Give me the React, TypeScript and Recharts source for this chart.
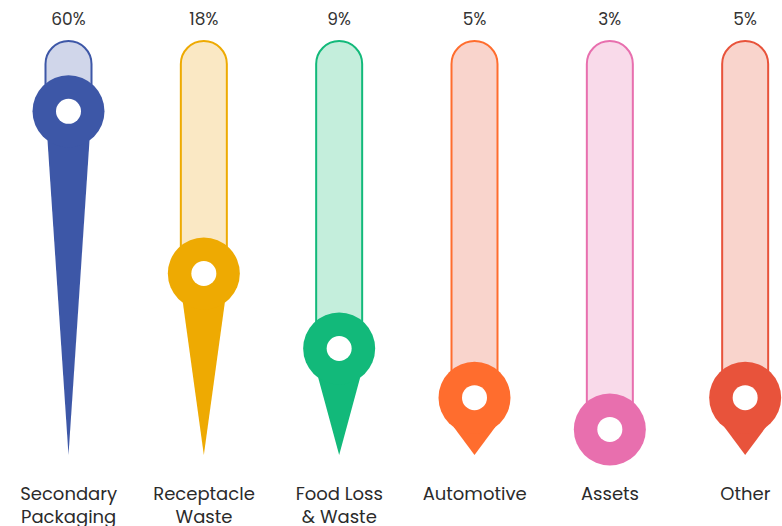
import { Bar, BarChart, XAxis, YAxis } from 'recharts'

const categories = ['Secondary Packaging', 'Receptacle Waste', 'Food Loss & Waste', 'Automotive', 'Assets', 'Other']
const shares = [60, 18, 9, 5, 3, 5]
const shareLabels = ['60%', '18%', '9%', '5%', '3%', '5%']

const pinColors = ['#3D57A7', '#EEAA02', '#12B97A', '#FF6D2E', '#E86FAE', '#E8533B']
const trackColors = ['#D0D6EA', '#FAE8C4', '#C4EEDC', '#F9D4CC', '#F9DAEA', '#F9D4CC']

// pins sit on a log scale shifted by a constant, which matches the spacing of the source
const LOG_SHIFT = 6.2
const valueDomain: [number, number] = [1.65, 96.2]

const data = categories.map((name, i) => ({ name, share: shares[i], label: shareLabels[i] }))

const FONT = 'Poppins, "Noto Sans", Lato, sans-serif'
const TRACK_W = 46

function TopLabel(props: any) {
  const { x, y, width, index } = props
  return (
    <text
      x={x + width / 2}
      y={y - 22}
      textAnchor="middle"
      dominantBaseline="central"
      fontFamily={FONT}
      fontSize={17}
      fill="#333"
    >
      {shareLabels[index]}
    </text>
  )
}

function Pin(props: any) {
  const { x, y, width, height, index, background } = props
  const cx = x + width / 2
  const cy = y
  const tip = y + height
  const top = background && typeof background.y === 'number' ? background.y : 41
  const color = pinColors[index]
  return (
    <g>
      <rect
        x={cx - TRACK_W / 2}
        y={top}
        width={TRACK_W}
        height={Math.max(cy - top, TRACK_W)}
        rx={TRACK_W / 2}
        ry={TRACK_W / 2}
        fill={trackColors[index]}
        stroke={color}
        strokeWidth={2}
      />
      {tip > cy + 29 && (
        <polygon points={`${cx - 21},${cy + 29} ${cx + 21},${cy + 29} ${cx},${tip}`} fill={color} />
      )}
      <circle cx={cx} cy={cy} r={36} fill={color} />
      <circle cx={cx} cy={cy} r={12.5} fill="#fff" />
    </g>
  )
}

function CategoryTick(props: any) {
  const { x, y, payload } = props
  const words = String(payload.value)
  const lines = words === 'Secondary Packaging'
    ? ['Secondary', 'Packaging']
    : words === 'Receptacle Waste'
      ? ['Receptacle', 'Waste']
      : words === 'Food Loss & Waste'
        ? ['Food Loss', '& Waste']
        : [words]
  return (
    <g>
      {lines.map((line, i) => (
        <text
          key={line}
          x={x}
          y={y + 30 + i * 23}
          textAnchor="middle"
          dominantBaseline="central"
          fontFamily={FONT}
          fontSize={18}
          fill="#2b2b2b"
        >
          {line}
        </text>
      ))}
    </g>
  )
}

export default function App() {
  return (
    <div style={{ position: 'absolute', left: 0, top: 0, width: 782, height: 526, overflow: 'hidden', background: '#fff' }}>
      <BarChart
        width={813}
        height={526}
        data={data}
        margin={{ top: 41, right: 0, left: 1, bottom: 0 }}
        barCategoryGap={0}
      >
        <XAxis
          dataKey="name"
          height={71}
          axisLine={false}
          tickLine={false}
          interval={0}
          tick={<CategoryTick />}
        />
        <YAxis
          hide
          type="number"
          scale="log"
          domain={[valueDomain[0] + LOG_SHIFT, valueDomain[1] + LOG_SHIFT]}
        />
        <Bar
          dataKey={(d: { share: number }) => d.share + LOG_SHIFT}
          isAnimationActive={false}
          background={(p: any) => <TopLabel key={`lbl-${p.index}`} {...p} />}
          shape={(p: any) => <Pin {...p} />}
        />
      </BarChart>
    </div>
  )
}
